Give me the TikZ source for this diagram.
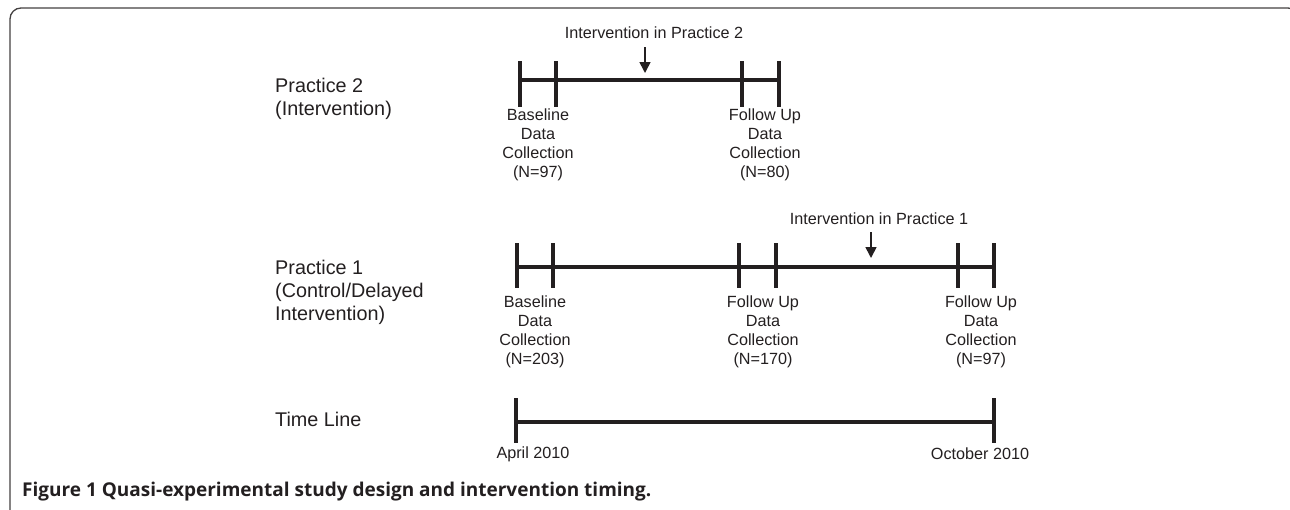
\documentclass[tikz,border=0pt]{standalone}
\usepackage{fontspec}
\setmainfont{Liberation Sans}
\newfontfamily\capfont{Open Sans}
\usetikzlibrary{arrows.meta}
\definecolor{ink}{HTML}{231F20}
\begin{document}
\begin{tikzpicture}[x=1pt,y=-1pt,
  bar/.style={line width=4.6pt, draw=ink},
  tickmark/.style={line width=4pt, draw=ink},
  lbl/.style={font=\fontsize{16.2}{19}\selectfont, align=center, anchor=north, inner sep=0pt, text=ink},
  rowlbl/.style={font=\fontsize{19.8}{23}\selectfont, align=left, anchor=north west, inner sep=0pt, text=ink},
  datelbl/.style={font=\fontsize{16.2}{19}\selectfont, anchor=center, inner sep=0pt, text=ink},
  arr/.style={line width=1.6pt, draw=ink, -{Triangle[width=11pt,length=11pt]}},
  frame/.style={line width=1.3pt, draw=ink!85}
]
\useasboundingbox (0,0) rectangle (1290,509);
% frame
\draw[frame, rounded corners=11pt] (40,530) -- (10,530) -- (10,8) -- (1299,8) -- (1299,40);

% ---- Practice 2 ----
\node[rowlbl] (p2lab) at (275,78) {Practice 2\\(Intervention)};
\coordinate (p2a) at (520,80);
\coordinate (p2b) at (556,80);
\coordinate (p2c) at (742,80);
\coordinate (p2d) at (779,80);
\draw[bar] (p2a) -- (p2d);
\foreach \c in {p2a,p2b,p2c,p2d}
  \draw[tickmark] ([yshift=19pt]\c) -- ([yshift=-27pt]\c);
\node[datelbl] (i2lab) at (654,33) {Intervention in Practice 2};
\coordinate (i2s) at (645,47);
\coordinate (i2e) at (645,73);
\draw[arr] (i2s) -- (i2e);
\node[lbl] (p2base) at (538,109) {Baseline\\Data\\Collection\\(N=97)};
\node[lbl] (p2fu) at (765,109) {Follow Up\\Data\\Collection\\(N=80)};

% ---- Practice 1 ----
\node[rowlbl] (p1lab) at (275,260) {Practice 1\\(Control/Delayed\\Intervention)};
\coordinate (p1a) at (517,267);
\coordinate (p1b) at (553,267);
\coordinate (p1c) at (739,267);
\coordinate (p1d) at (776,267);
\coordinate (p1e) at (958,267);
\coordinate (p1f) at (994,267);
\draw[bar] (p1a) -- (p1f);
\foreach \c in {p1a,p1b,p1c,p1d,p1e,p1f}
  \draw[tickmark] ([yshift=24pt]\c) -- ([yshift=-21pt]\c);
\node[datelbl] (i1lab) at (879,219) {Intervention in Practice 1};
\coordinate (i1s) at (871,232);
\coordinate (i1e) at (871,258);
\draw[arr] (i1s) -- (i1e);
\node[lbl] (p1base) at (535,296) {Baseline\\Data\\Collection\\(N=203)};
\node[lbl] (p1fu1) at (763,296) {Follow Up\\Data\\Collection\\(N=170)};
\node[lbl] (p1fu2) at (981,296) {Follow Up\\Data\\Collection\\(N=97)};

% ---- Time line ----
\node[rowlbl, anchor=west] (tllab) at (275,419) {Time Line};
\coordinate (tla) at (516,422);
\coordinate (tlb) at (994,422);
\draw[bar] (tla) -- (tlb);
\foreach \c in {tla,tlb}
  \draw[tickmark] ([yshift=24pt]\c) -- ([yshift=-21pt]\c);
\node[datelbl] (apr) at (533,454) {April 2010};
\node[datelbl] (oct) at (980,454) {October 2010};

% ---- caption ----
\node[anchor=base west, inner sep=0pt, text=ink, font=\capfont\bfseries\fontsize{19}{23}\selectfont] (cap) at (22,496)
  {Figure 1 Quasi-experimental study design and intervention timing.};
\end{tikzpicture}
\end{document}
